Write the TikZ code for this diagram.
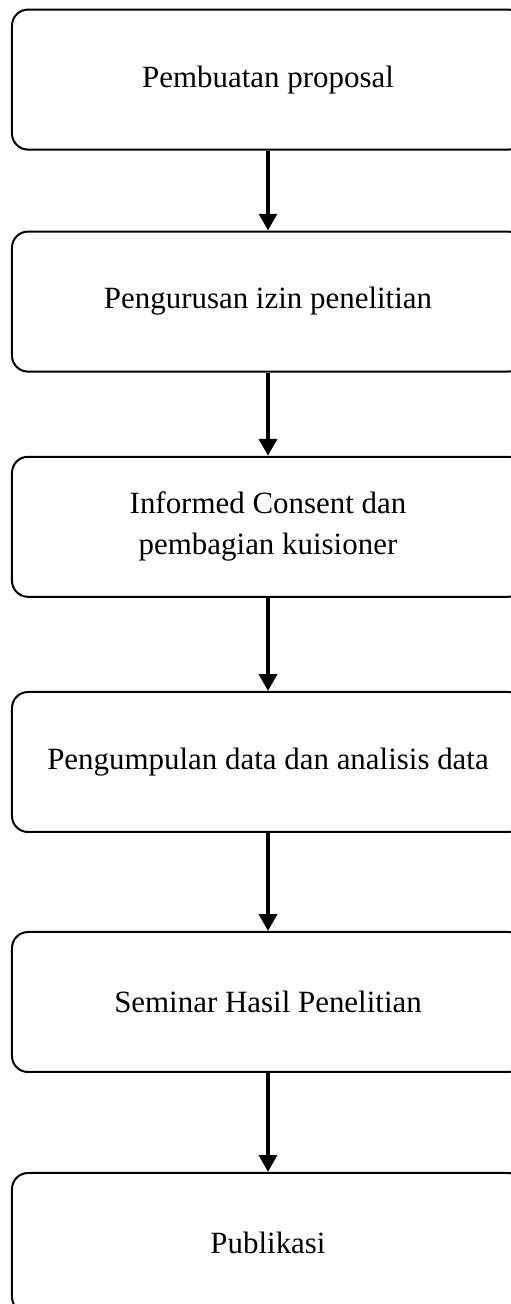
\documentclass[tikz,border=0pt]{standalone}
\usepackage{fontspec}
\setmainfont{Liberation Serif}
\usetikzlibrary{arrows.meta}
\newcommand{\FB}{\fontsize{22}{29}\selectfont}

\begin{document}
\begin{tikzpicture}
\tikzstyle{kotak}=[draw=black,line width=0.05cm,rounded corners=0.4cm,minimum width=12.8cm,minimum height=3.5cm,align=center,font=\FB]
\tikzstyle{panah}=[black,line width=0.1cm,-{Triangle[width=0.44cm,length=0.42cm]}]

\useasboundingbox (0,0) rectangle (12.75,32.6);

\node[kotak] (proposal) at (6.7,30.61) {Pembuatan proposal};
\node[kotak] (izin)     at (6.7,25.06) {Pengurusan izin penelitian};
\node[kotak] (consent)  at (6.7,19.43) {Informed Consent dan\\pembagian kuisioner};
\node[kotak] (data)     at (6.7,13.55) {Pengumpulan data dan analisis data};
\node[kotak] (seminar)  at (6.7,7.55)  {Seminar Hasil Penelitian};
\node[kotak] (publik)   at (6.7,1.525) {Publikasi};

\draw[panah] (proposal.south) -- (izin.north);
\draw[panah] (izin.south) -- (consent.north);
\draw[panah] (consent.south) -- (data.north);
\draw[panah] (data.south) -- (seminar.north);
\draw[panah] (seminar.south) -- (publik.north);
\end{tikzpicture}
\end{document}
